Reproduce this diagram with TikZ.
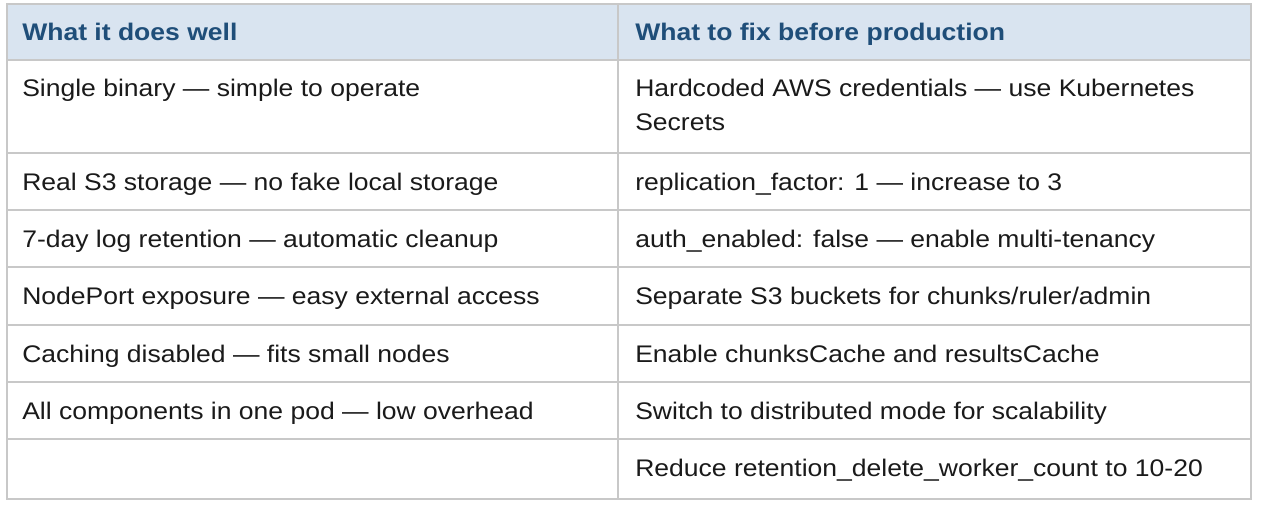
\documentclass[tikz,border=0pt]{standalone}
\usepackage{fontspec}
\setmainfont{Liberation Sans}[FakeStretch=1.105]
\definecolor{hdrbg}{HTML}{D9E4F0}
\definecolor{hdrfg}{HTML}{1F4E79}
\definecolor{grid}{HTML}{C8C8C8}
\definecolor{body}{HTML}{1A1A1A}
\tikzset{
  cell/.style={anchor=base west, inner sep=0pt, font=\fontsize{18}{25}\selectfont, text=body},
  hcell/.style={anchor=base west, inner sep=0pt, font=\fontsize{18}{25}\selectfont\bfseries, text=hdrfg},
  gridline/.style={draw=grid, line width=1.5pt}
}
\begin{document}
\begin{tikzpicture}[x=0.75pt,y=-0.75pt]
\useasboundingbox (0,0) rectangle (1262,512);
\fill[white] (0,0) rectangle (1262,512);
\fill[hdrbg] (7,4) rectangle (1251,60);
% grid
\draw[gridline] (7,4) rectangle (1251,499);
\foreach \yy in {60,153,210,267,325,382,439} \draw[gridline] (7,\yy) -- (1251,\yy);
\draw[gridline] (618,4) -- (618,499);
% header
\node[hcell] (h1) at (22,40) {What it does well};
\node[hcell] (h2) at (635,40) {What to fix before production};
% left column
\node[cell] (l1) at (22,96.7) {Single binary — simple to operate};
\node[cell] (l2) at (22,190.5) {Real S3 storage — no fake local storage};
\node[cell] (l3) at (22,247.5) {7-day log retention — automatic cleanup};
\node[cell] (l4) at (22,304.5) {NodePort exposure — easy external access};
\node[cell] (l5) at (22,362) {Caching disabled — fits small nodes};
\node[cell] (l6) at (22,419) {All components in one pod — low overhead};
% right column
\node[cell] (r1) at (635,96.7) {Hardcoded AWS credentials — use Kubernetes};
\node[cell] (r1b) at (635,130.2) {Secrets};
\node[cell] (r2) at (635,190.5) {replication\_factor: 1 — increase to 3};
\node[cell] (r3) at (635,247.5) {auth\_enabled: false — enable multi-tenancy};
\node[cell] (r4) at (635,304.5) {Separate S3 buckets for chunks/ruler/admin};
\node[cell] (r5) at (635,362) {Enable chunksCache and resultsCache};
\node[cell] (r6) at (635,419) {Switch to distributed mode for scalability};
\node[cell] (r7) at (635,476) {Reduce retention\_delete\_worker\_count to 10-20};
\end{tikzpicture}
\end{document}
